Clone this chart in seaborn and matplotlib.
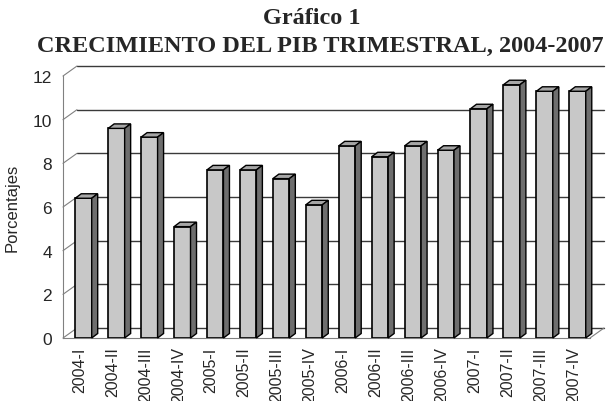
import numpy as np
import pandas as pd
import matplotlib
matplotlib.use("Agg")
import matplotlib.pyplot as plt
from matplotlib.patches import Polygon
import seaborn as sns

# quarters and GDP growth (%)
trimestres = ["2004-I", "2004-II", "2004-III", "2004-IV",
              "2005-I", "2005-II", "2005-III", "2005-IV",
              "2006-I", "2006-II", "2006-III", "2006-IV",
              "2007-I", "2007-II", "2007-III", "2007-IV"]
crecimiento = [6.4, 9.6, 9.2, 5.1,
               7.7, 7.7, 7.3, 6.1,
               8.8, 8.3, 8.8, 8.6,
               10.5, 11.6, 11.3, 11.3]
yticks = [0, 2, 4, 6, 8, 10, 12]

df = pd.DataFrame({"Trimestre": trimestres, "Crecimiento": crecimiento})

sns.set_style("white")
plt.rcParams["font.family"] = ["Liberation Sans", "DejaVu Sans"]

fig = plt.figure(figsize=(6.11, 4.02), dpi=100)
W, H = 611, 402
x0, x1, yb, yt = 63, 590, 339, 77
ax = fig.add_axes([x0 / W, (H - yb) / H, (x1 - x0) / W, (yb - yt) / H])

sns.barplot(data=df, x="Trimestre", y="Crecimiento", color="#c8c8c8",
            width=0.5, edgecolor="black", linewidth=1.2, saturation=1, ax=ax, zorder=3)
ax.set_xlim(-0.5, len(trimestres) - 0.5)
ax.set_ylim(0, 12)

# pixel -> data conversions
px_x = (len(trimestres)) / (x1 - x0)
px_y = 12 / (yb - yt)

# back wall offset
wdx, wdy = 14 * px_x, 10 * px_y
# bar depth
bdx, bdy = 6 * px_x, 4.5 * px_y
shift = 4 * px_x

grid_col = "#3a3a3a"
xl, xr = ax.get_xlim()
for t in yticks:
    ax.plot([xl + wdx, xr + wdx], [t + wdy, t + wdy], color=grid_col, lw=1, clip_on=False, zorder=1)
    ax.plot([xl, xl + wdx], [t, t + wdy], color="#808080", lw=0.8, clip_on=False, zorder=1)
ax.plot([xr, xr + wdx], [0, wdy], color="#808080", lw=0.8, clip_on=False, zorder=1)

for p in ax.patches:
    p.set_x(p.get_x() + shift)
    bx0 = p.get_x()
    bx1 = bx0 + p.get_width()
    h = p.get_height()
    top = Polygon([(bx0, h), (bx1, h), (bx1 + bdx, h + bdy), (bx0 + bdx, h + bdy)],
                  closed=True, facecolor="#a6a6a6", edgecolor="black", lw=1.0,
                  zorder=4, clip_on=False)
    side = Polygon([(bx1, 0), (bx1 + bdx, bdy), (bx1 + bdx, h + bdy), (bx1, h)],
                   closed=True, facecolor="#6e6e6e", edgecolor="black", lw=1.0,
                   zorder=4, clip_on=False)
    ax.add_patch(top)
    ax.add_patch(side)

for s in ["top", "right"]:
    ax.spines[s].set_visible(False)
for s in ["left", "bottom"]:
    ax.spines[s].set_color("#808080")
    ax.spines[s].set_linewidth(0.8)

ax.set_yticks(yticks)
ax.set_yticklabels([str(t) for t in yticks], fontsize=12.5)
ax.tick_params(axis="y", length=6, width=0.8, color="#808080", pad=2)
ax.set_xticks(range(len(trimestres)))
ax.set_xticklabels(trimestres, rotation=90, fontsize=11.5)
ax.tick_params(axis="x", which="major", length=0, pad=6)
ax.set_xticks(np.arange(len(trimestres) + 1) - 0.5, minor=True)
ax.tick_params(axis="x", which="minor", length=4, width=0.8, color="#808080")
ax.set_xlabel("")
ax.set_ylabel("Porcentajes", fontsize=12, labelpad=9)

fig.text(0.51, 1 - 18 / H, "Gráfico 1", ha="center", va="center",
         family="Liberation Serif", fontweight="bold", fontsize=17.5)
fig.text(0.525, 1 - 46 / H, "CRECIMIENTO DEL PIB TRIMESTRAL, 2004-2007", ha="center",
         va="center", family="Liberation Serif", fontweight="bold", fontsize=17.5)

fig.savefig("out.png", dpi=100, facecolor="white")
